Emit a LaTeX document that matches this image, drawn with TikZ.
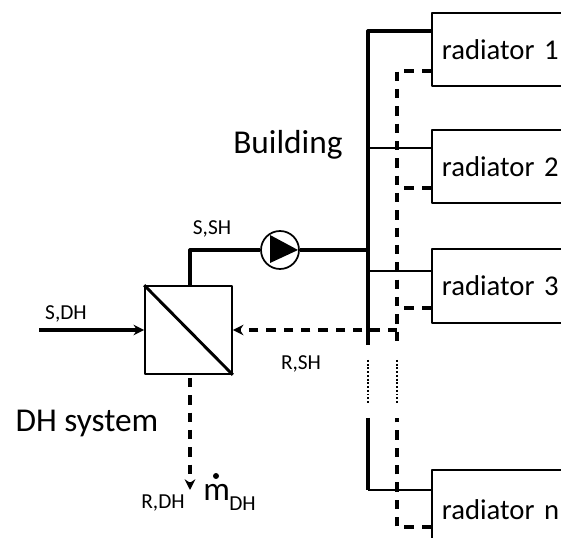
\documentclass[tikz,border=0pt]{standalone}
\usepackage{fontspec}
\setmainfont{Carlito}
\usetikzlibrary{arrows.meta}
\tikzset{
	supply/.style={line width=2.4pt},
	branch/.style={line width=1.7pt},
	retrn/.style={line width=2.4pt,dash pattern=on 7pt off 6pt},
	gap/.style={line width=1.9pt,dash pattern=on 1.4pt off 1.4pt},
	radbox/.style={draw,line width=1.3pt,fill=white,anchor=north west,minimum height=#1,text width=135pt,align=left,inner xsep=7.5pt,inner ysep=0pt,font=\fontsize{21.5}{24}\selectfont},
	biglabel/.style={inner sep=0pt,font=\fontsize{25}{28}\selectfont},
	smalllabel/.style={inner sep=0pt,font=\fontsize{16}{18}\selectfont},
}
\begin{document}
\begin{tikzpicture}[x=.75pt,y=-.75pt,>={Stealth[length=8pt,width=8pt]},line join=round]
	\useasboundingbox (0,0) rectangle (561,538);
	\clip (0,0) rectangle (561,538);
	% radiators
	\node[radbox=54.75pt] (rad1) at (431,12) {radiator 1};
	\node[radbox=54.75pt] (rad2) at (431,129) {radiator 2};
	\node[radbox=55.5pt] (rad3) at (431,248) {radiator 3};
	\node[radbox=60pt] (radn) at (431,469) {radiator n};
	% heat exchanger and pump
	\node[draw,line width=1.3pt,minimum width=65.25pt,minimum height=66pt,inner sep=0pt] (hx) at (188.5,330) {};
	\draw[line width=2.2pt] (hx.north west)--(hx.south east);
	\node[draw,circle,line width=1.3pt,minimum size=28.5pt,inner sep=0pt] (pump) at (280,250) {};
	\fill (270,235)--(298,250)--(270,263)--cycle;
	% supply side
	\coordinate (top) at (368,31);
	\coordinate (sA) at (368,345);
	\coordinate (sB) at (368,360);
	\coordinate (sC) at (368,403);
	\coordinate (sD) at (368,418);
	\coordinate (sE) at (368,490);
	\coordinate (up) at (190,250);
	\coordinate (in) at (39,330);
	\draw[supply] (rad1.west |- top)--(top)--(sA);
	\draw[supply] (sD)--(sE);
	\draw[branch] (sE)--(sE -| radn.west);
	\draw[branch] (368,148)--(431,148);
	\draw[branch] (368,271)--(431,271);
	\draw[supply] (up |- hx.north)--(up)--(pump.west);
	\draw[supply] (pump.east)--(368,250);
	\draw[supply,->] (in)--(hx.west);
	\draw[gap] (sB)--(sC);
	% return side
	\coordinate (rtop) at (397,71);
	\coordinate (rA) at (397,345);
	\coordinate (rB) at (397,360);
	\coordinate (rC) at (397,403);
	\coordinate (rD) at (397,418);
	\coordinate (rE) at (397,527);
	\coordinate (rM) at (397,330);
	\coordinate (out) at (190,490);
	\draw[retrn] (rad1.west |- rtop)--(rtop)--(rA);
	\draw[retrn] (rad2.west |- 0,188)--(397,188);
	\draw[retrn] (rad3.west |- 0,308)--(397,308);
	\draw[retrn] (radn.west |- rE)--(rE)--(rD);
	\draw[retrn,->] (rM)--(hx.east);
	\draw[retrn,->] (190,378)--(out);
	\draw[gap] (rB)--(rC);
	% labels
	\node[biglabel] (building) at (288,145) {Building};
	\node[biglabel] (dhsys) at (87,423) {DH system};
	\node[smalllabel] (ssh) at (212,229) {S,SH};
	\node[smalllabel] (sdh) at (66,314) {S,DH};
	\node[smalllabel] (rsh) at (301,364) {R,SH};
	\node[smalllabel] (rdh) at (163,503) {R,DH};
	\node[biglabel,anchor=base west] (mdot) at (203,500) {m};
	\node[smalllabel,anchor=base west] (dhsub) at (229,510) {DH};
	\fill (216,476) circle (3);
\end{tikzpicture}
\end{document}
